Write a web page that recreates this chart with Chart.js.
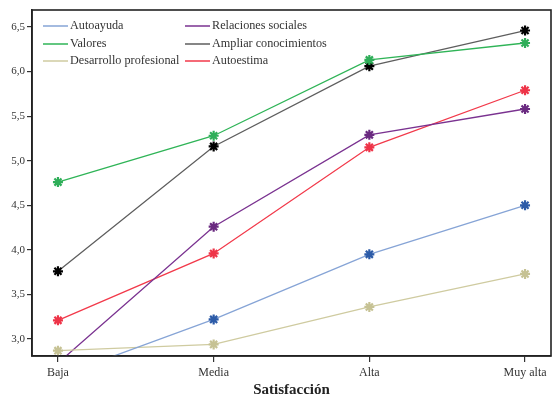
<!DOCTYPE html>
<html>
<head>
<meta charset="utf-8">
<script src="https://cdn.jsdelivr.net/npm/chart.js@4/dist/chart.umd.min.js"></script>
<style>
  html, body { margin: 0; padding: 0; background: #fff; }
  #wrap { width: 553px; height: 398px; }
</style>
</head>
<body>
<div id="wrap"><canvas id="c" width="553" height="398"></canvas></div>
<script>
// Satisfaction levels on the x axis
const categories = ['Baja', 'Media', 'Alta', 'Muy alta'];
const yTicks = [3.0, 3.5, 4.0, 4.5, 5.0, 5.5, 6.0, 6.5];

// Mean scores per motive
const autoayuda = [2.58, 3.22, 3.95, 4.50];
const valores = [4.76, 5.28, 6.13, 6.32];
const desarrollo = [2.87, 2.94, 3.36, 3.73];
const relaciones = [2.73, 4.26, 5.29, 5.58];
const ampliar = [3.76, 5.16, 6.06, 6.46];
const autoestima = [3.21, 3.96, 5.15, 5.79];

const seriesNames = ['Autoayuda', 'Valores', 'Desarrollo profesional', 'Relaciones sociales', 'Ampliar conocimientos', 'Autoestima'];
const seriesValues = [autoayuda, valores, desarrollo, relaciones, ampliar, autoestima];
const lineColors = ['#86a4d6', '#2fb457', '#cfcba0', '#7a3290', '#5e5e5e', '#f2394a'];
const markerColors = ['#2c5ba8', '#2fae59', '#c6c294', '#6a2a80', '#000000', '#ee3448'];

const FONT = '"Liberation Serif", "DejaVu Serif", serif';

const datasets = seriesNames.map((name, i) => ({
  label: name,
  data: seriesValues[i].map((v, k) => ({ x: k, y: v })),
  borderColor: lineColors[i],
  backgroundColor: markerColors[i],
  borderWidth: 1.3,
  pointStyle: 'star',
  pointRadius: 5,
  pointBorderWidth: 2.2,
  pointBorderColor: markerColors[i],
  pointBackgroundColor: markerColors[i],
  tension: 0,
  clip: { left: 10, right: 10, top: 10, bottom: 0 }
}));

// Two-column legend placed inside the plotting area
const insideLegend = {
  id: 'insideLegend',
  afterDraw(chart) {
    const ctx = chart.ctx;
    const a = chart.chartArea;
    const cols = [a.left + 11, a.left + 153];
    const rows = [a.top + 16, a.top + 34, a.top + 51];
    const order = [0, 3, 1, 4, 2, 5];
    ctx.save();
    ctx.font = '12.2px ' + FONT;
    ctx.textBaseline = 'middle';
    ctx.textAlign = 'left';
    order.forEach((si, j) => {
      const x = cols[j % 2];
      const y = rows[Math.floor(j / 2)];
      ctx.strokeStyle = lineColors[si];
      ctx.lineWidth = 1.5;
      ctx.beginPath();
      ctx.moveTo(x, y);
      ctx.lineTo(x + 25, y);
      ctx.stroke();
      ctx.fillStyle = '#333';
      ctx.fillText(seriesNames[si], x + 27, y);
    });
    ctx.restore();
  }
};

// Frame around the plotting area and x axis title
const frame = {
  id: 'frame',
  afterDatasetsDraw(chart) {
    const ctx = chart.ctx;
    const a = chart.chartArea;
    ctx.save();
    ctx.strokeStyle = '#222';
    ctx.lineWidth = 1.6;
    ctx.strokeRect(a.left, a.top, a.right - a.left, a.bottom - a.top);
    ctx.fillStyle = '#222';
    ctx.font = 'bold 15px ' + FONT;
    ctx.textAlign = 'center';
    ctx.textBaseline = 'middle';
    ctx.fillText('Satisfacción', (a.left + a.right) / 2, 390);
    ctx.restore();
  }
};

new Chart(document.getElementById('c'), {
  type: 'line',
  data: { datasets },
  options: {
    responsive: false,
    animation: false,
    layout: { autoPadding: false, padding: { top: 10, right: 2, left: 0, bottom: 0 } },
    plugins: { legend: { display: false }, tooltip: { enabled: false } },
    scales: {
      x: {
        type: 'linear',
        min: -0.1667,
        max: 3.1667,
        afterBuildTicks(s) { s.ticks = categories.map((_, i) => ({ value: i })); },
        afterFit(s) { s.height = 42; s.paddingLeft = 0; s.paddingRight = 0; },
        grid: { drawOnChartArea: false, drawTicks: true, tickLength: 6, color: '#333', lineWidth: 1.2 },
        border: { display: true, color: '#222', width: 1.6 },
        ticks: {
          autoSkip: false,
          maxRotation: 0,
          padding: 4,
          color: '#333',
          font: { family: FONT, size: 12 },
          callback: v => categories[v] ?? ''
        }
      },
      y: {
        type: 'linear',
        min: 2.81,
        max: 6.69,
        afterBuildTicks(s) { s.ticks = yTicks.map(v => ({ value: v })); },
        afterFit(s) { s.width = 32; s.paddingTop = 0; s.paddingBottom = 0; },
        grid: { drawOnChartArea: false, drawTicks: true, tickLength: 5, color: '#333', lineWidth: 1.2 },
        border: { display: true, color: '#222', width: 1.6 },
        ticks: {
          padding: 2,
          color: '#333',
          font: { family: FONT, size: 11 },
          callback: v => v.toFixed(1).replace('.', ',')
        }
      }
    }
  },
  plugins: [insideLegend, frame]
});
</script>
</body>
</html>
